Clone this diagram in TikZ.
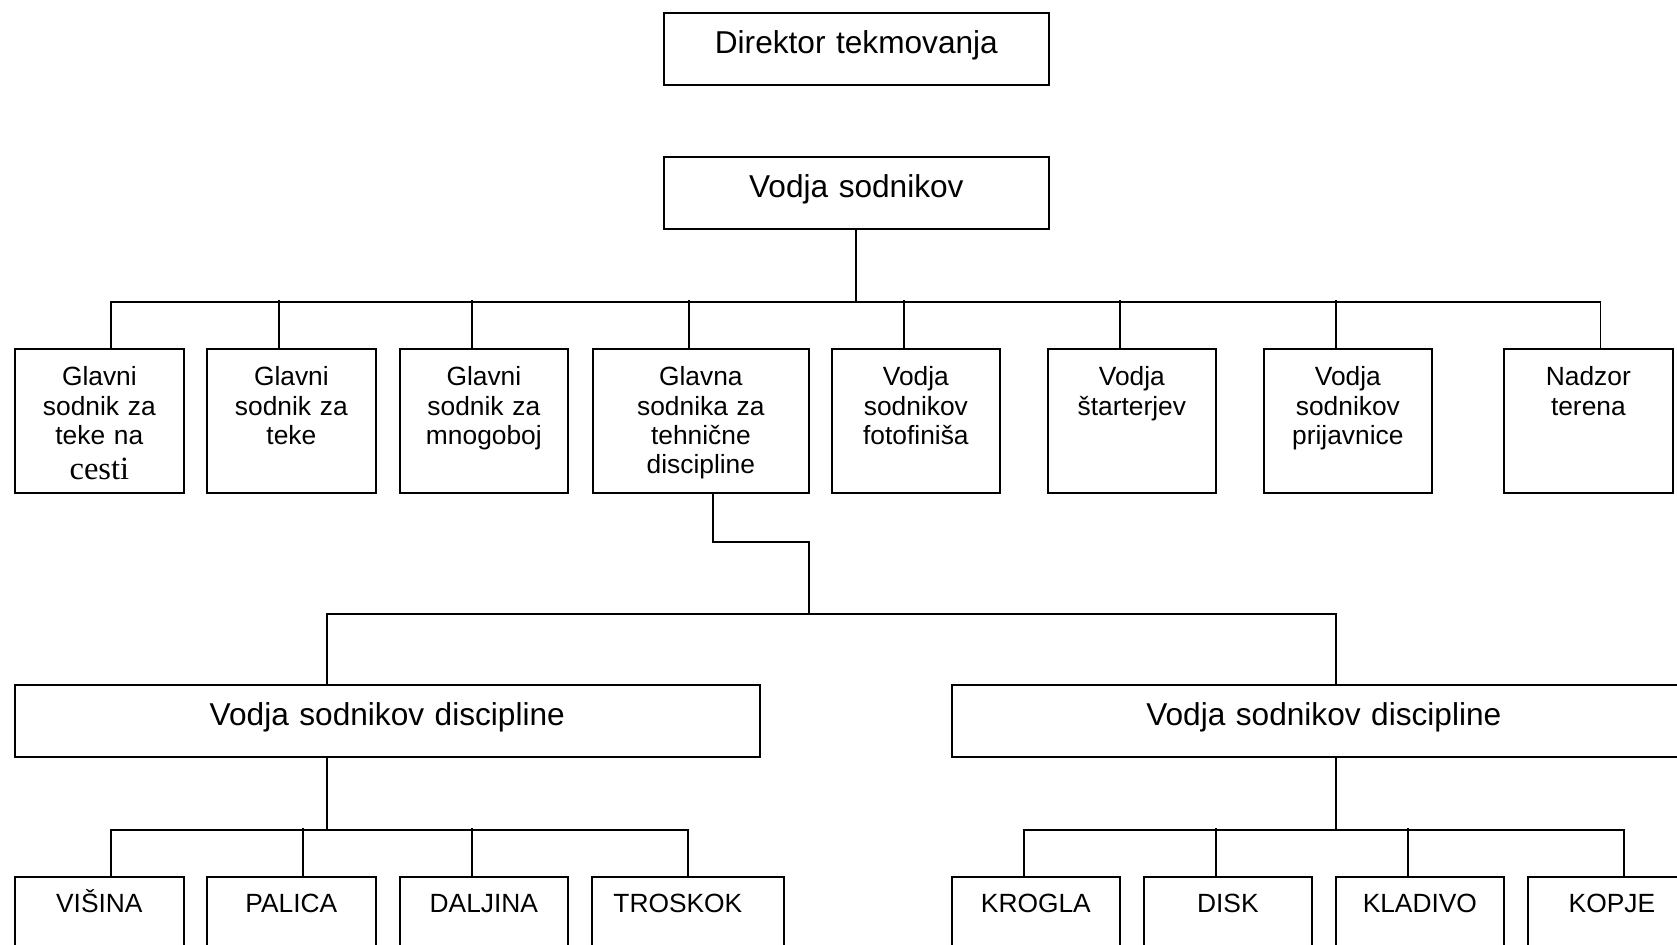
\documentclass[tikz,border=0pt]{standalone}
\usepackage{fontspec}
\setmainfont{Liberation Sans}
\newfontfamily\cestifont{Liberation Serif}
\usepackage{tikz}

\tikzset{
  box/.style={draw, line width=1pt, inner sep=0pt, anchor=north west, align=center},
  bigbox/.style={box, font=\fontsize{18}{21}\selectfont, text width=#1, minimum width=#1,
    text height=0.81cm, text depth=0.63cm},
  smallbox/.style={box, font=\fontsize{15}{16.7}\selectfont, text width=#1, minimum width=#1,
    text height=0.74cm, text depth=2.14cm},
  discbox/.style={box, font=\fontsize{15}{16.7}\selectfont, text width=#1, minimum width=#1,
    text height=0.72cm, text depth=2.2cm},
  link/.style={line width=1pt}
}

\begin{document}
\begin{tikzpicture}[x=0.02cm, y=-0.02cm]
  \useasboundingbox (0,0) rectangle (1677,944);
  \clip (0,0) rectangle (1677,944);

  \node[bigbox=7.7cm] (dt) at (663,12) {Direktor tekmovanja};
  \node[bigbox=7.7cm] (vs) at (663,156) {Vodja sodnikov};

  \node[smallbox=3.38cm] (g1) at (14,348) {Glavni\\sodnik za\\teke na\\[0.11cm]{\cestifont\fontsize{18.5}{20}\selectfont cesti}};
  \node[smallbox=3.38cm] (g2) at (206,348) {Glavni\\sodnik za\\teke};
  \node[smallbox=3.36cm] (g3) at (399,348) {Glavni\\sodnik za\\mnogoboj};
  \node[smallbox=4.32cm] (g4) at (592,348) {Glavna\\sodnika za\\tehnične\\discipline};
  \node[smallbox=3.36cm] (g5) at (831,348) {Vodja\\sodnikov\\fotofiniša};
  \node[smallbox=3.36cm] (g6) at (1047,348) {Vodja\\štarterjev};
  \node[smallbox=3.36cm] (g7) at (1263,348) {Vodja\\sodnikov\\prijavnice};
  \node[smallbox=3.38cm] (g8) at (1503,348) {Nadzor\\terena};

  \node[bigbox=14.9cm] (vd1) at (14,684) {Vodja sodnikov discipline};
  \node[bigbox=14.88cm] (vd2) at (951,684) {Vodja sodnikov discipline};

  \node[discbox=3.38cm] (t1) at (14,876) {VIŠINA};
  \node[discbox=3.38cm] (t2) at (206,876) {PALICA};
  \node[discbox=3.36cm] (t3) at (399,876) {DALJINA};
  \node[discbox=3.84cm] (t4) at (591,876) {TROSKOK\hspace{0.4cm}\mbox{}};
  \node[discbox=3.36cm] (t5) at (951,876) {KROGLA};
  \node[discbox=3.36cm] (t6) at (1143,876) {DISK};
  \node[discbox=3.36cm] (t7) at (1335,876) {KLADIVO};
  \node[discbox=3.36cm] (t8) at (1527,876) {KOPJE};

  % first level
  \draw[link] (vs.south) -- ++(0,72) coordinate (bus1);
  \draw[link] (g1.north) ++(12,0) |- (bus1);
  \draw[link] (g8.north) ++(12,0) |- (bus1);
  \foreach \n in {2,...,7}
    \draw[link] (g\n.north) ++(-12,0) -- ++(0,-48);

  % technical disciplines
  \draw[link] (g4.south) ++(12,0) -- ++(0,48) -| ++(96,72) coordinate (bus2);
  \draw[link] (vd1.north) ++(-60,0) |- (bus2);
  \draw[link] (vd2.north) ++(12,0) |- (bus2);

  % disciplines left
  \draw[link] (vd1.south) ++(-60,0) -- ++(0,72) coordinate (bus3);
  \draw[link] (t1.north) ++(12,0) |- (bus3);
  \draw[link] (t4.north) |- (bus3);
  \draw[link] (t2.north) ++(12,0) -- ++(0,-48);
  \draw[link] (t3.north) ++(-12,0) -- ++(0,-48);

  % disciplines right
  \draw[link] (vd2.south) ++(12,0) -- ++(0,72) coordinate (bus4);
  \draw[link] (t5.north) ++(-12,0) |- (bus4);
  \draw[link] (t8.north) ++(12,0) |- (bus4);
  \draw[link] (t6.north) ++(-12,0) -- ++(0,-48);
  \draw[link] (t7.north) ++(-12,0) -- ++(0,-48);
\end{tikzpicture}
\end{document}
